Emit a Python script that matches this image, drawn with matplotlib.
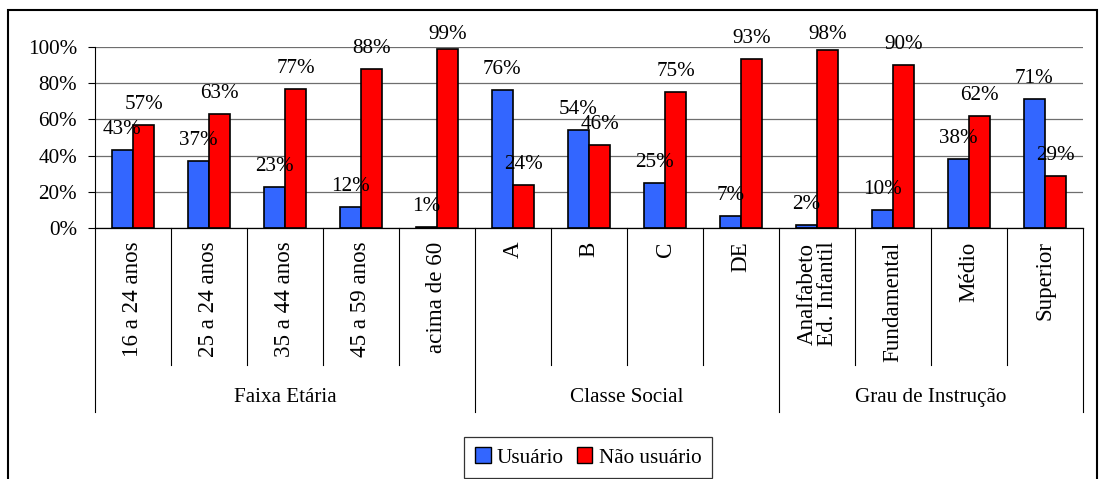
import matplotlib.pyplot as plt
from matplotlib.patches import Patch, Rectangle
from matplotlib.lines import Line2D
from matplotlib.ticker import FuncFormatter

# data (percent)
categories = ["16 a 24 anos", "25 a 24 anos", "35 a 44 anos", "45 a 59 anos",
              "acima de 60", "A", "B", "C", "DE", "Analfabeto\nEd. Infantil",
              "Fundamental", "Médio", "Superior"]
groups = ["Faixa Etária", "Classe Social", "Grau de Instrução"]
group_sizes = [5, 4, 4]
usuario = [43, 37, 23, 12, 1, 76, 54, 25, 7, 2, 10, 38, 71]
nao_usuario = [57, 63, 77, 88, 99, 24, 46, 75, 93, 98, 90, 62, 29]

BLUE = "#3366ff"
RED = "#ff0000"
FONT = "Liberation Serif"
FS = 15.2       # horizontal text
FS_ROT = 16.6   # rotated category labels
plt.rcParams["font.family"] = [FONT, "DejaVu Serif"]

fig = plt.figure(figsize=(11, 4.79), dpi=100)
ax = fig.add_axes([95 / 1100, 1 - 228.5 / 479, 988 / 1100, 181.8 / 479])

n = len(categories)
w = 0.28
xs = [i + 0.5 for i in range(n)]
u = [v / 100 for v in usuario]
nu = [v / 100 for v in nao_usuario]

ax.set_axisbelow(True)
ax.bar([x - w / 2 for x in xs], u, width=w, color=BLUE, edgecolor="black", linewidth=1.2)
ax.bar([x + w / 2 for x in xs], nu, width=w, color=RED, edgecolor="black", linewidth=1.2)

# value labels above the bars
for x, a, b, va_, vb_ in zip(xs, u, nu, usuario, nao_usuario):
    ax.text(x - w / 2, min(a + 0.088, 1.045), f"{va_}%", ha="center", va="baseline",
            fontsize=FS, clip_on=False)
    ax.text(x + w / 2, min(b + 0.088, 1.045), f"{vb_}%", ha="center", va="baseline",
            fontsize=FS, clip_on=False)

ax.set_xlim(0, n)
ax.set_ylim(0, 1)
ax.set_yticks([0, 0.2, 0.4, 0.6, 0.8, 1.0])
ax.yaxis.set_major_formatter(FuncFormatter(lambda v, p: f"{v * 100:.0f}%"))
ax.tick_params(axis="y", length=5, width=0.8, pad=8, labelsize=FS)
ax.set_xticks([])
ax.grid(axis="y", color="#6e6e6e", linewidth=0.9)
for s in ["top", "right"]:
    ax.spines[s].set_visible(False)
ax.spines["left"].set_linewidth(0.8)
ax.spines["bottom"].set_linewidth(0.9)

# multi-level category axis
tr = ax.get_xaxis_transform()
for x, lab in zip(xs, categories):
    ax.text(x, -0.0715, lab, transform=tr, rotation=90, ha="center", va="top",
            multialignment="center", fontsize=FS_ROT, linespacing=0.95)

bounds = [0]
for g in group_sizes:
    bounds.append(bounds[-1] + g)
for i in range(n + 1):
    y_end = -1.009 if i in bounds else -0.751
    ax.add_line(Line2D([i, i], [0, y_end], transform=tr, color="black",
                       linewidth=0.8, clip_on=False))
for g, a, b in zip(groups, bounds[:-1], bounds[1:]):
    ax.text((a + b) / 2, -0.932, g, transform=tr, ha="center", va="center",
            fontsize=FS)

# legend
handles = [Patch(facecolor=BLUE, edgecolor="black", label="Usuário"),
           Patch(facecolor=RED, edgecolor="black", label="Não usuário")]
leg = fig.legend(handles=handles, loc="center", bbox_to_anchor=(588 / 1100, 1 - 457.5 / 479),
                 ncol=2, fontsize=FS, frameon=True, fancybox=False, shadow=False,
                 handlelength=0.75, handleheight=0.75, handletextpad=0.3,
                 columnspacing=0.6, borderpad=0.5, borderaxespad=0)
leg.get_frame().set_edgecolor("black")
leg.get_frame().set_linewidth(0.9)

# outer chart border
fig.patches.append(Rectangle((7.5 / 1100, -0.05), 1089.5 / 1100, 1.05 - 10 / 479,
                             transform=fig.transFigure, fill=False,
                             edgecolor="black", linewidth=1.5))

fig.savefig("out.png", dpi=100)
